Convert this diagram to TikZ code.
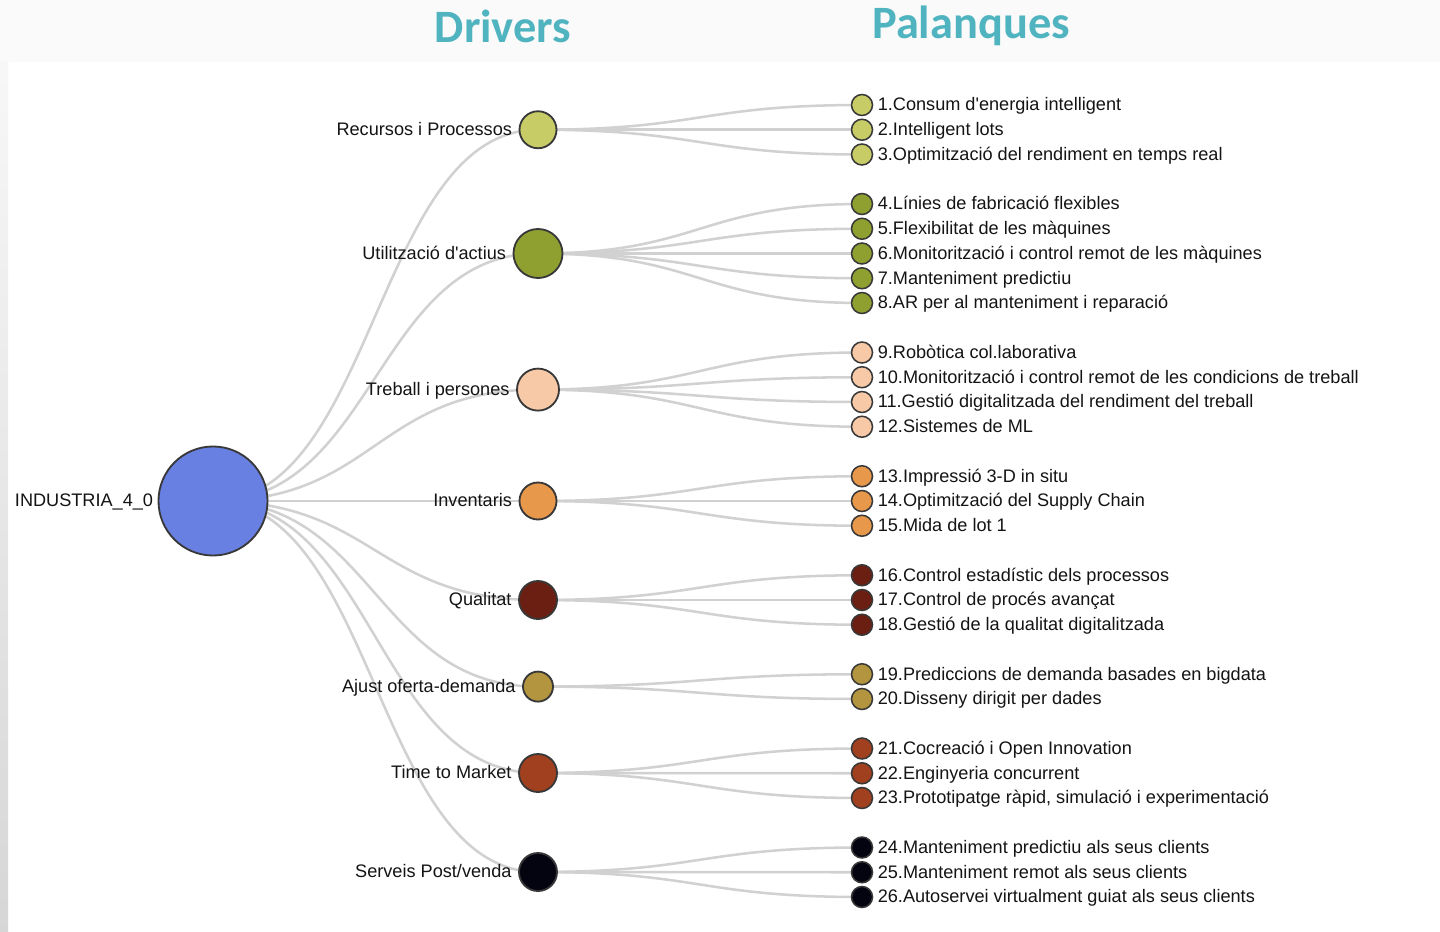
\documentclass[tikz,border=0pt]{standalone}
\usepackage{fontspec}
\setmainfont{Liberation Sans}
\newfontfamily\titlefont{Carlito}
\newfontfamily\lblfont{Liberation Sans}
\usetikzlibrary{positioning, backgrounds}

\definecolor{titleCol}{RGB}{80,180,192}
\definecolor{rootCol}{RGB}{104,128,226}
\definecolor{recCol}{RGB}{199,204,102}
\definecolor{actCol}{RGB}{143,160,48}
\definecolor{treCol}{RGB}{247,201,166}
\definecolor{invCol}{RGB}{232,152,74}
\definecolor{quaCol}{RGB}{107,30,18}
\definecolor{ajoCol}{RGB}{179,149,63}
\definecolor{ttmCol}{RGB}{160,64,31}
\definecolor{postCol}{RGB}{4,4,16}

\begin{document}
\begin{tikzpicture}[x=0.025cm, y=-0.025cm, line cap=round, line join=round,
	font=\lblfont\fontsize{12.9}{14}\selectfont,
	ring/.style={circle, draw=black!78, line width=1.3pt, inner sep=0pt},
	drv/.style={ring, minimum size=0.925cm},
	leaf/.style={ring, minimum size=0.525cm, line width=1.1pt},
	txt/.style={inner sep=0pt, text height=0.84em, text depth=0pt, text=black!92},
	edge/.style={draw=black!18, line width=1.8pt},
	ttl/.style={font=\titlefont\bfseries\fontsize{33}{36}\selectfont, text=titleCol, anchor=base}]
\useasboundingbox (0,0) rectangle (1440,932);

%========================
% Background
%========================
\begin{scope}[on background layer]
	\fill[black!2] (0,0) rectangle (1440,932);
	\fill[white] (8,62) rectangle (1440,932);
	\shade[top color=black!3, bottom color=black!16] (0,62) rectangle (8,932);
\end{scope}

% column titles
\node[ttl] (drivers) at (503,43) {Drivers};
\node[ttl] (palanques) at (971,39) {Palanques};

%========================
% Root and drivers
%========================
\node[ring, fill=rootCol, minimum size=2.725cm] (root) at (213,501) {};
\node[txt, left=3pt of root] (rootTxt) {INDUSTRIA\_4\_0};

\node[drv, fill=recCol] (rec) at (538,129.75) {};
\node[txt, left=4.5pt of rec] (recTxt) {Recursos i Processos};
\node[drv, fill=actCol, minimum size=1.225cm] (act) at (538,253.5) {};
\node[txt, left=4.5pt of act] (actTxt) {Utilització d'actius};
\node[drv, fill=treCol, minimum size=1.05cm] (tre) at (538,389.6) {};
\node[txt, left=4.5pt of tre] (treTxt) {Treball i persones};
\node[drv, fill=invCol] (inv) at (538,501) {};
\node[txt, left=4.5pt of inv] (invTxt) {Inventaris};
\node[drv, fill=quaCol, minimum size=0.95cm] (qua) at (538,600) {};
\node[txt, left=4.5pt of qua] (quaTxt) {Qualitat};
\node[drv, fill=ajoCol, minimum size=0.75cm] (ajo) at (538,686.6) {};
\node[txt, left=4.5pt of ajo] (ajoTxt) {Ajust oferta-demanda};
\node[drv, fill=ttmCol, minimum size=0.95cm] (ttm) at (538,773) {};
\node[txt, left=4.5pt of ttm] (ttmTxt) {Time to Market};
\node[drv, fill=postCol, minimum size=0.95cm] (post) at (538,872) {};
\node[txt, left=4.5pt of post] (postTxt) {Serveis Post/venda};

% root -> drivers (diagonal links)
\begin{scope}[on background layer]
	\foreach \dr in {rec,act,tre,inv,qua,ajo,ttm,post}
		\draw[edge] (root.center) .. controls +(162,0) and +(-162,0) .. (\dr.center);
\end{scope}

%========================
% Palanques (leaves)
%========================
\foreach \i/\s/\dr/\lab in {
	1/0/rec/{1.Consum d'energia intelligent},
	2/1/rec/{2.Intelligent lots},
	3/2/rec/{3.Optimització del rendiment en temps real},
	4/4/act/{4.Línies de fabricació flexibles},
	5/5/act/{5.Flexibilitat de les màquines},
	6/6/act/{6.Monitorització i control remot de les màquines},
	7/7/act/{7.Manteniment predictiu},
	8/8/act/{8.AR per al manteniment i reparació},
	9/10/tre/{9.Robòtica col.laborativa},
	10/11/tre/{10.Monitorització i control remot de les condicions de treball},
	11/12/tre/{11.Gestió digitalitzada del rendiment del treball},
	12/13/tre/{12.Sistemes de ML},
	13/15/inv/{13.Impressió 3-D in situ},
	14/16/inv/{14.Optimització del Supply Chain},
	15/17/inv/{15.Mida de lot 1},
	16/19/qua/{16.Control estadístic dels processos},
	17/20/qua/{17.Control de procés avançat},
	18/21/qua/{18.Gestió de la qualitat digitalitzada},
	19/23/ajo/{19.Prediccions de demanda basades en bigdata},
	20/24/ajo/{20.Disseny dirigit per dades},
	21/26/ttm/{21.Cocreació i Open Innovation},
	22/27/ttm/{22.Enginyeria concurrent},
	23/28/ttm/{23.Prototipatge ràpid, simulació i experimentació},
	24/30/post/{24.Manteniment predictiu als seus clients},
	25/31/post/{25.Manteniment remot als seus clients},
	26/32/post/{26.Autoservei virtualment guiat als seus clients}}{
	\node[leaf, fill=\dr Col] (l\i) at (862,{105+24.75*\s}) {};
	\node[txt, right=3pt of l\i] (t\i) {\lab};
	\begin{scope}[on background layer]
		\draw[edge] (\dr.center) .. controls +(162,0) and +(-162,0) .. (l\i.center);
	\end{scope}
}
\end{tikzpicture}
\end{document}
